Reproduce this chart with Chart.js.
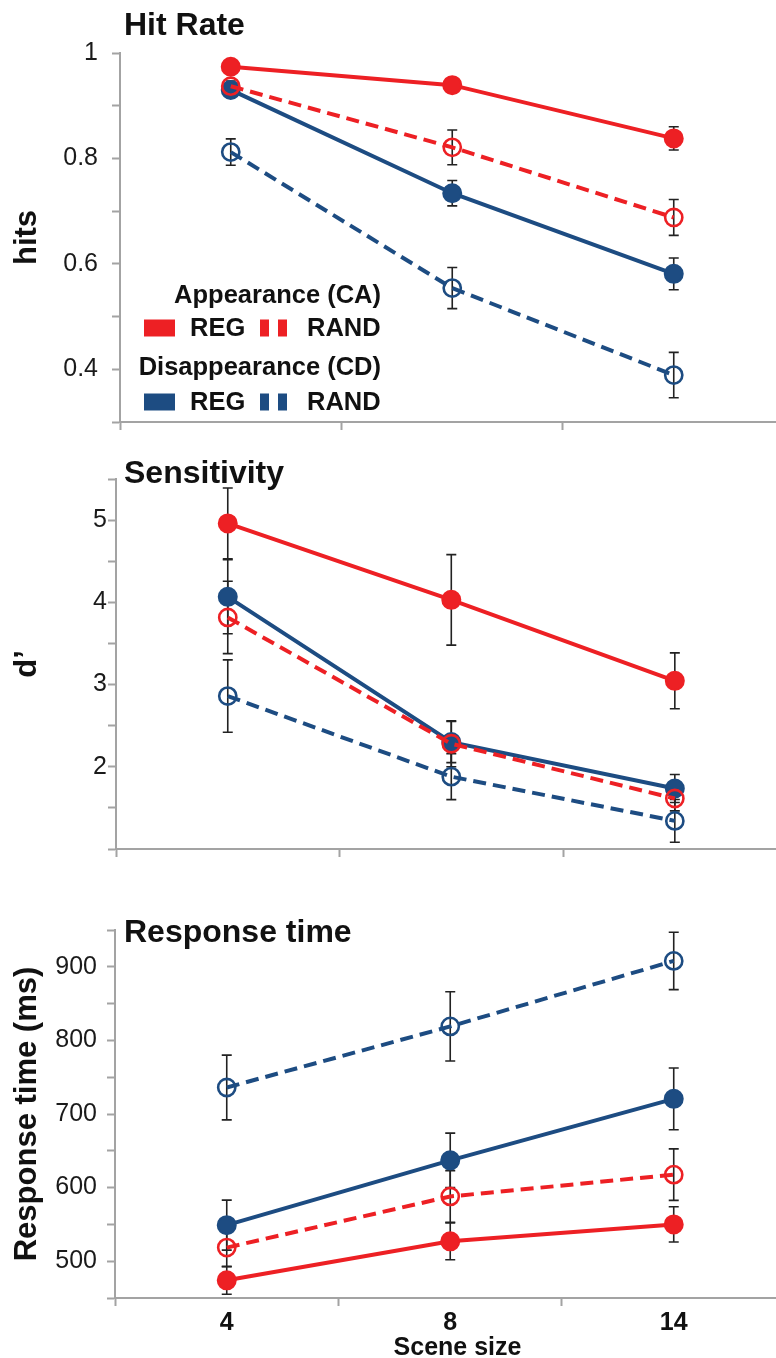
<!DOCTYPE html>
<html>
<head>
<meta charset="utf-8">
<script src="https://cdn.jsdelivr.net/npm/chart.js@4"></script>
<style>
  html, body { margin: 0; padding: 0; background: #ffffff; overflow: hidden; }
  body { width: 776px; height: 1358px; position: relative; }
  canvas { position: absolute; left: 0; }
</style>
</head>
<body>
<canvas id="c1" width="800" height="440" style="top:0px"></canvas>
<canvas id="c2" width="800" height="440" style="top:440px"></canvas>
<canvas id="c3" width="800" height="478" style="top:880px"></canvas>
<script>
// ---------- DATA ----------
const sceneSizes = ['4', '8', '14'];
const legendGroups = ['Appearance (CA)', 'Disappearance (CD)'];
const conditions = ['REG', 'RAND'];

// Hit rate (hits)
const hitCaReg      = [0.974, 0.939, 0.838];
const hitCaRegErr   = [0.008, 0.008, 0.022];
const hitCaRand     = [0.937, 0.821, 0.688];
const hitCaRandErr  = [0.010, 0.033, 0.034];
const hitCdReg      = [0.930, 0.734, 0.581];
const hitCdRegErr   = [0.010, 0.024, 0.030];
const hitCdRand     = [0.812, 0.554, 0.389];
const hitCdRandErr  = [0.025, 0.039, 0.043];

// Sensitivity (d')
const dCaReg        = [4.96, 4.03, 3.045];
const dCaRegErr     = [0.43, 0.55, 0.34];
const dCaRand       = [3.816, 2.28, 1.614];
const dCaRandErr    = [0.44, 0.28, 0.15];
const dCdReg        = [4.067, 2.30, 1.736];
const dCdRegErr     = [0.45, 0.25, 0.17];
const dCdRand       = [2.86, 1.88, 1.342];
const dCdRandErr    = [0.44, 0.28, 0.26];

// Response time (ms)
const rtCaReg       = [474, 527, 550];
const rtCaRegErr    = [19, 25, 24];
const rtCaRand      = [518.5, 588, 617.6];
const rtCaRandErr   = [26, 35, 35];
const rtCdReg       = [549, 637, 720.6];
const rtCdRegErr    = [34, 37, 42];
const rtCdRand      = [736, 819, 908];
const rtCdRandErr   = [44, 47, 39];

// Tick values and labelled ticks
const hitTicks       = [0.3, 0.4, 0.5, 0.6, 0.7, 0.8, 0.9, 1.0];
const hitTickLabels  = [0.4, 0.6, 0.8, 1.0];
const dTicks         = [1, 1.5, 2, 2.5, 3, 3.5, 4, 4.5, 5, 5.5];
const dTickLabels    = [2, 3, 4, 5];
const rtTicks        = [450, 500, 550, 600, 650, 700, 750, 800, 850, 900, 950];
const rtTickLabels   = [500, 600, 700, 800, 900];
const xTicks         = [-0.5, 0, 0.5, 1, 1.5, 2, 2.5];

// ---------- STYLE ----------
const RED = '#ED2024';
const BLUE = '#1D4C82';
const AXIS = '#a3a3a3';
const FONT = "'Liberation Sans', Arial, Helvetica, sans-serif";
Chart.defaults.font.family = FONT;
Chart.defaults.color = '#141414';

function makeSet(group, cond, values, errs, color) {
  const dashed = cond === 'RAND';
  return {
    label: cond,
    group: group,
    data: values.map((v, i) => ({ x: i, y: v })),
    errors: errs,
    borderColor: color,
    backgroundColor: color,
    borderWidth: 4,
    borderDash: dashed ? [13, 7] : [],
    tension: 0,
    fill: false,
    clip: false,
    pointRadius: dashed ? 8.6 : 9,
    pointHoverRadius: dashed ? 8.6 : 9,
    pointBorderWidth: dashed ? 2.6 : 2,
    pointBorderColor: color,
    pointBackgroundColor: dashed ? 'rgba(255,255,255,0)' : color
  };
}

function datasetsFor(caReg, caRegE, caRand, caRandE, cdReg, cdRegE, cdRand, cdRandE) {
  return [
    makeSet(legendGroups[0], conditions[0], caReg, caRegE, RED),
    makeSet(legendGroups[0], conditions[1], caRand, caRandE, RED),
    makeSet(legendGroups[1], conditions[0], cdReg, cdRegE, BLUE),
    makeSet(legendGroups[1], conditions[1], cdRand, cdRandE, BLUE)
  ];
}

// ---------- PLUGINS ----------
const errorBars = {
  id: 'errorBars',
  beforeDatasetsDraw(chart) {
    const { ctx, scales: { x, y } } = chart;
    ctx.save();
    ctx.strokeStyle = '#222222';
    ctx.lineWidth = 1.6;
    chart.data.datasets.forEach(ds => {
      ds.data.forEach((p, i) => {
        const e = ds.errors[i];
        const px = x.getPixelForValue(p.x);
        const t = y.getPixelForValue(p.y + e);
        const b = y.getPixelForValue(p.y - e);
        ctx.beginPath();
        ctx.moveTo(px, t); ctx.lineTo(px, b);
        ctx.moveTo(px - 5, t); ctx.lineTo(px + 5, t);
        ctx.moveTo(px - 5, b); ctx.lineTo(px + 5, b);
        ctx.stroke();
      });
    });
    ctx.restore();
  }
};

const panelTitle = {
  id: 'panelTitle',
  afterDraw(chart, args, opts) {
    if (!opts.text) return;
    const ctx = chart.ctx;
    ctx.save();
    ctx.font = 'bold 32px ' + FONT;
    ctx.fillStyle = '#111111';
    ctx.textAlign = 'left';
    ctx.textBaseline = 'alphabetic';
    ctx.fillText(opts.text, opts.x, opts.y);
    ctx.restore();
  }
};

const groupLegend = {
  id: 'groupLegend',
  afterDraw(chart, args, opts) {
    if (!opts.display) return;
    const ctx = chart.ctx;
    const sets = chart.data.datasets;
    ctx.save();
    ctx.font = 'bold 25.5px ' + FONT;
    ctx.fillStyle = '#111111';
    ctx.textBaseline = 'alphabetic';
    opts.groups.forEach(g => {
      ctx.textAlign = 'right';
      ctx.fillStyle = '#111111';
      ctx.fillText(g.title, opts.right, g.headerY);
      g.items.forEach((idx, k) => {
        const ds = sets[idx];
        const it = opts.items[k];
        ctx.save();
        ctx.strokeStyle = ds.borderColor;
        ctx.lineWidth = 17;
        ctx.lineCap = 'butt';
        ctx.setLineDash(ds.borderDash && ds.borderDash.length ? [9, 9] : []);
        ctx.beginPath();
        ctx.moveTo(it.sx, g.rowY - 8);
        ctx.lineTo(it.sx + it.sw, g.rowY - 8);
        ctx.stroke();
        ctx.restore();
        ctx.textAlign = 'left';
        ctx.fillStyle = '#111111';
        ctx.fillText(ds.label, it.tx, g.rowY);
      });
    });
    ctx.restore();
  }
};

// ---------- CHART FACTORY ----------
function makeChart(id, cfg) {
  const tickFont = { size: 25, family: FONT };
  return new Chart(document.getElementById(id), {
    type: 'line',
    data: { datasets: cfg.datasets },
    plugins: [errorBars, panelTitle, groupLegend],
    options: {
      responsive: false,
      animation: false,
      devicePixelRatio: 1,
      layout: { autoPadding: false, padding: { left: 0, right: 0, top: cfg.top, bottom: 0 } },
      events: [],
      plugins: {
        legend: { display: false },
        tooltip: { enabled: false },
        title: { display: false },
        panelTitle: cfg.title,
        groupLegend: cfg.legend || { display: false }
      },
      scales: {
        x: {
          type: 'linear',
          min: -0.5,
          max: cfg.xmax,
          afterBuildTicks: s => { s.ticks = xTicks.filter(v => v <= cfg.xmax).map(v => ({ value: v })); },
          afterFit: s => { s.height = cfg.xh; s.paddingLeft = 0; s.paddingRight = 0; },
          border: { display: true, color: AXIS, width: 2 },
          grid: {
            display: true,
            drawOnChartArea: false,
            drawTicks: true,
            tickLength: 8,
            tickWidth: 2,
            color: AXIS,
            tickColor: c => (c.tick && Number.isInteger(c.tick.value)) ? 'rgba(0,0,0,0)' : AXIS
          },
          ticks: {
            autoSkip: false,
            maxRotation: 0,
            padding: 2,
            font: { size: 25, weight: 'bold', family: FONT },
            color: '#111111',
            callback: v => (cfg.xLabels && Number.isInteger(v)) ? sceneSizes[v] : ''
          },
          title: cfg.xTitle ? {
            display: true,
            text: cfg.xTitle,
            font: { size: 25, weight: 'bold', family: FONT, lineHeight: 0.8 },
            color: '#111111',
            padding: 0
          } : { display: false }
        },
        y: {
          type: 'linear',
          min: cfg.ymin,
          max: cfg.ymax,
          afterBuildTicks: s => { s.ticks = cfg.yTicks.map(v => ({ value: v })); },
          afterFit: s => { s.width = cfg.left; s.paddingTop = 0; s.paddingBottom = 0; },
          border: { display: true, color: AXIS, width: 2 },
          grid: {
            display: true,
            drawOnChartArea: false,
            drawTicks: true,
            tickLength: 8,
            tickWidth: 2,
            color: AXIS,
            tickColor: AXIS
          },
          ticks: {
            autoSkip: false,
            padding: cfg.yPad,
            font: tickFont,
            color: '#1a1a1a',
            callback: v => cfg.yLabels.includes(v) ? String(v) : ''
          },
          title: {
            display: true,
            text: cfg.yTitle,
            font: { size: 31, weight: 'bold', family: FONT },
            color: '#111111',
            padding: { top: 9, bottom: 0 }
          }
        }
      }
    }
  });
}

makeChart('c1', {
  datasets: datasetsFor(hitCaReg, hitCaRegErr, hitCaRand, hitCaRandErr, hitCdReg, hitCdRegErr, hitCdRand, hitCdRandErr),
  top: 53, xh: 18, left: 120, xmax: 2.570, yPad: 14,
  ymin: 0.3, ymax: 1.0, yTicks: hitTicks, yLabels: hitTickLabels,
  yTitle: 'hits', xLabels: false,
  title: { text: 'Hit Rate', x: 124, y: 35 },
  legend: {
    display: true,
    right: 381,
    items: [{ sx: 144, sw: 31, tx: 190 }, { sx: 260, sw: 27, tx: 307 }],
    groups: [
      { title: legendGroups[0], headerY: 303, rowY: 336, items: [0, 1] },
      { title: legendGroups[1], headerY: 375, rowY: 410, items: [2, 3] }
    ]
  }
});

makeChart('c2', {
  datasets: datasetsFor(dCaReg, dCaRegErr, dCaRand, dCaRandErr, dCdReg, dCdRegErr, dCdRand, dCdRandErr),
  top: 39, xh: 31, left: 116, xmax: 2.560, yPad: 1,
  ymin: 1, ymax: 5.5, yTicks: dTicks, yLabels: dTickLabels,
  yTitle: 'd\u2019', xLabels: false,
  title: { text: 'Sensitivity', x: 124, y: 43 }
});

makeChart('c3', {
  datasets: datasetsFor(rtCaReg, rtCaRegErr, rtCaRand, rtCaRandErr, rtCdReg, rtCdRegErr, rtCdRand, rtCdRandErr),
  top: 50, xh: 60, left: 115, xmax: 2.565, yPad: 10,
  ymin: 450, ymax: 950, yTicks: rtTicks, yLabels: rtTickLabels,
  yTitle: 'Response time (ms)', xLabels: true, xTitle: 'Scene size',
  title: { text: 'Response time', x: 124, y: 62 }
});
</script>
</body>
</html>
